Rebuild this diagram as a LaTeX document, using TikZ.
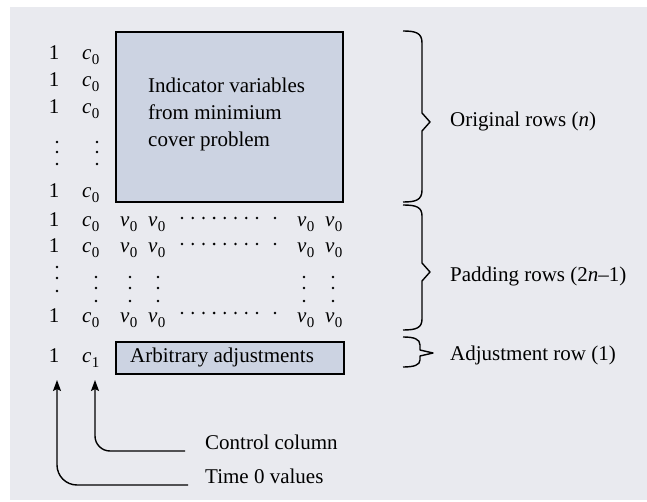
\documentclass[tikz,border=0pt]{standalone}
\usepackage{fontspec}
\setmainfont{Liberation Serif}
\usetikzlibrary{arrows.meta}
\definecolor{bgc}{RGB}{233,234,239}
\definecolor{boxc}{RGB}{204,211,226}
\newcommand\sv[2]{\textit{#1}\kern0.3pt\raisebox{-5pt}{\fontsize{15}{15}\selectfont #2}}
\begin{document}
\begin{tikzpicture}[x=1pt,y=-1pt,
 every node/.style={inner sep=0pt, font=\fontsize{21}{26}\selectfont},
 lbl/.style={anchor=base west},
 one/.style={anchor=base},
 blk/.style={draw=black, line width=2pt, fill=boxc},
 brace/.style={line width=1.4pt, line join=round},
 arr/.style={line width=1.4pt, -{Stealth[length=11pt,width=8pt,inset=2pt]}},
 dot/.style={circle, fill=black, minimum size=2.8pt}]
\useasboundingbox (0,0) rectangle (647,502);
\fill[white] (0,0) rectangle (647,502);
\fill[bgc] (10,7) rectangle (647,500);
% boxes
\node[blk, anchor=north west, minimum width=227pt, minimum height=170pt] (ind) at (115,31) {};
\node[lbl] (ind1) at (148,93) {Indicator variables};
\node[lbl] (ind2) at (148,120) {from minimium};
\node[lbl] (ind3) at (148,147) {cover problem};
\node[blk, anchor=north west, minimum width=228pt, minimum height=32pt] (adj) at (115,341) {};
\node[lbl] (adjt) at (130,362) {Arbitrary adjustments};
% rows
\foreach \y/\n in {60/a,87/b,114/c,198/d,227/e,253/f,322/g} {
  \node[one] (one\n) at (54,\y) {1};
  \node[lbl] (c\n) at (82,\y) {\sv{c}{0}};
}
\node[one] (oneh) at (54,362) {1};
\node[lbl] (ch) at (82,362) {\sv{c}{1}};
\foreach \y/\n in {227/e,253/f,322/g} {
  \foreach \x/\m in {120/a,148/b,297/c,325/d}
    \node[lbl] (v\n\m) at (\x,\y) {\sv{v}{0}};
  \foreach \k in {0,...,7}
    \node[dot] (hd\n\k) at ({182+10.7*\k},\y-9) {};
  \node[dot] (hd\n x) at (275,\y-9) {};
}
% vertical dots
\foreach \y in {142,152,164} {
  \node[dot] at (57,\y) {};
  \node[dot] at (97,\y) {};
}
\foreach \y in {267,278,291} \node[dot] at (57,\y) {};
\foreach \y in {277,288,301}
  \foreach \x in {96,130,158,304,333}
    \node[dot] at (\x,\y) {};
% braces
\draw[brace] (403,31) .. controls (416,31) and (422,33) .. (422,43) -- (422,113) -- (430,122) -- (422,131) -- (422,190) .. controls (422,200) and (416,202) .. (403,202);
\draw[brace] (403,205) .. controls (416,205) and (422,207) .. (422,216) -- (422,263) -- (430,272) -- (422,281) -- (422,319) .. controls (422,328) and (416,330) .. (403,330);
\draw[brace] (403,337) .. controls (414,337) and (420,339) .. (420,345) -- (420,350) -- (433,353) -- (420,356) -- (420,360) .. controls (420,365) and (414,367) .. (403,367);
% labels
\node[lbl] (orig) at (450,127) {Original rows (\textit{n})};
\node[lbl] (pad) at (450,282) {Padding rows (2\textit{n}–1)};
\node[lbl] (adjl) at (450,360) {Adjustment row (1)};
\node[lbl] (ctrl) at (205,449) {Control column};
\node[lbl] (time) at (205,483) {Time 0 values};
% arrows
\coordinate (ctip) at (95,380);
\coordinate (ttip) at (57,380);
\coordinate (cend) at (185,451);
\coordinate (tend) at (188,485);
\draw[arr, rounded corners=15pt] (cend) -| (ctip);
\draw[arr, rounded corners=20pt] (tend) -| (ttip);
\end{tikzpicture}
\end{document}
